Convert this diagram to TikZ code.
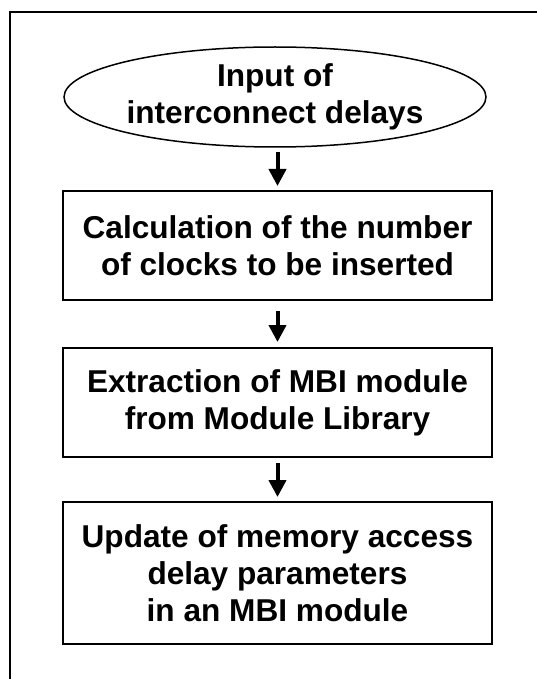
\documentclass[tikz,border=0pt]{standalone}
\usepackage{fontspec}
\setmainfont{Liberation Sans}
\usetikzlibrary{arrows.meta,shapes.geometric}

\tikzset{
  stepbox/.style={draw, line width=2pt, rectangle, minimum width=429pt,
    inner sep=0pt, align=center, font=\bfseries\fontsize{31.6}{37}\selectfont},
  startoval/.style={draw, line width=1.5pt, ellipse, minimum width=422pt,
    minimum height=100pt, inner sep=0pt, align=center,
    font=\bfseries\fontsize{31.6}{37}\selectfont},
  flowarrow/.style={line width=4pt, -{Triangle[length=17pt,width=17pt]}},
  frameline/.style={line width=2pt}
}

\begin{document}
\begin{tikzpicture}[x=1pt,y=-1pt]
  \useasboundingbox (0,0) rectangle (537,679);

  % open frame: top and left edges only
  \draw[frameline] (9.5,679) -- (9.5,12) -- (537,12);

  \node[startoval] (input) at (275,97) {Input of\\interconnect delays};
  \node[stepbox, minimum height=109pt] (calc) at (277.5,245.5)
    {Calculation of the number\\of clocks to be inserted};
  \node[stepbox, minimum height=109pt] (extract) at (277.5,402.5)
    {Extraction of MBI module\\from Module Library};
  \node[stepbox, minimum height=142pt] (update) at (277.5,573)
    {Update of memory access\\delay parameters\\in an MBI module};

  \coordinate (a1) at ([yshift=-4pt]calc.north |- input.south);
  \draw[flowarrow] (a1) -- ([yshift=4pt]calc.north);
  \draw[flowarrow] ([yshift=-10pt]calc.south) -- ([yshift=5pt]extract.north);
  \draw[flowarrow] ([yshift=-5pt]extract.south) -- ([yshift=4pt]update.north);
\end{tikzpicture}
\end{document}
